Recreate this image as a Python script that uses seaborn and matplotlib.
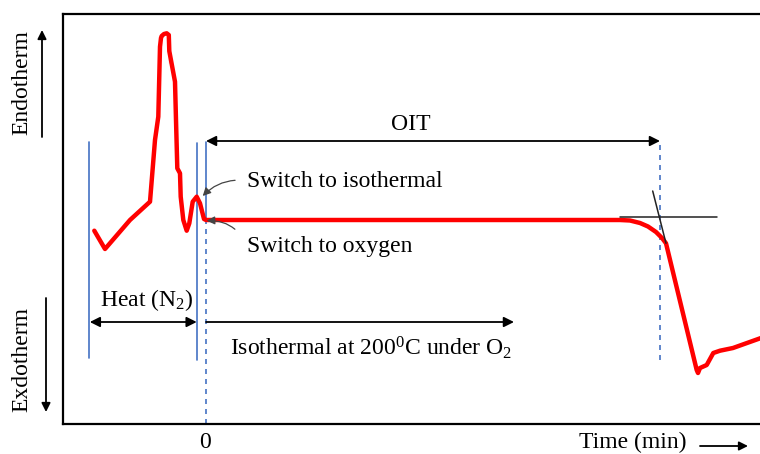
import matplotlib
matplotlib.use("Agg")
import matplotlib.pyplot as plt
import seaborn as sns
import pandas as pd

sns.set_style("white")
plt.rcParams["font.family"] = ["Liberation Serif", "DejaVu Serif"]
plt.rcParams["mathtext.fontset"] = "custom"
plt.rcParams["mathtext.rm"] = "Liberation Serif"
plt.rcParams["mathtext.it"] = "Liberation Serif:italic"
plt.rcParams["text.color"] = "black"
plt.rcParams["xtick.color"] = "black"

# DSC heat-flow trace (schematic): heating under N2, then isothermal under O2
time_min = [-11.07, -10.0, -7.5, -5.5, -5.0, -4.67, -4.5, -4.4, -4.33, -4.1, -3.83,
            -3.62, -3.57, -3.57, -3.0, -2.9, -2.77, -2.5, -2.43, -2.17, -1.83,
            -1.57, -1.23, -0.83, -0.5, -0.1, 0.1, 41.5, 42.5, 43.5, 44.3, 45.1,
            45.7, 46.1, 49.17, 49.3, 49.5, 50.17, 50.83, 51.5, 52.8, 55.6]
heat_flow = [19.33, 17.5, 20.4, 22.23, 28.4, 30.73, 37.73, 38.6, 38.8, 39.0, 39.07,
             38.9, 38.5, 36.07, 34.23, 30.4, 25.57, 25.07, 22.73, 20.4, 19.33,
             20.07, 22.23, 22.73, 22.07, 20.5, 20.4, 20.4, 20.35, 20.1, 19.75, 19.2,
             18.6, 18.07, 5.4, 5.1, 5.6, 5.9, 7.1, 7.33, 7.6, 8.6]

# Onset construction (baseline and tangent to the oxidation slope)
baseline_x = [41.5, 51.2]
baseline_y = [20.73, 20.73]
tangent_x = [44.77, 46.1]
tangent_y = [23.3, 18.07]

# Event markers
heat_start = -11.57
heat_end = -0.83
oxygen_on = 0.05
oit_end = 45.5
isothermal_arrow_end = 30.9

trace = pd.DataFrame({"time": time_min, "heat": heat_flow})

fig = plt.figure(figsize=(7.6, 4.54), dpi=100)
ax = fig.add_axes([63 / 760, 30 / 454, 700 / 760, 410 / 454])

blue = "#4472C4"
fs = 17

ax.plot([heat_start, heat_start], [6.57, 28.23], color=blue, lw=1.2)
ax.plot([heat_end, heat_end], [6.4, 28.13], color=blue, lw=1.2)
ax.plot([oxygen_on, oxygen_on], [20.4, 28.23], color=blue, lw=1.2)
ax.plot([oxygen_on, oxygen_on], [0, 20.4], color=blue, lw=1.2, ls=(0, (3, 3)))
ax.plot([oit_end, oit_end], [6.4, 28.23], color=blue, lw=1.2, ls=(0, (3, 3)))

sns.lineplot(data=trace, x="time", y="heat", sort=False, color="#FF0000",
             lw=3.2, ax=ax, zorder=3)

ax.plot(baseline_x, baseline_y, color="#222222", lw=1.1, zorder=4)
ax.plot(tangent_x, tangent_y, color="#222222", lw=1.1, zorder=4)

arrow_kw = dict(arrowstyle="<|-|>", color="black", lw=1.3, mutation_scale=15,
                shrinkA=0, shrinkB=0)
ax.annotate("", xy=(oit_end, 28.3), xytext=(oxygen_on + 0.05, 28.3), arrowprops=arrow_kw)
ax.annotate("", xy=(heat_end, 10.2), xytext=(heat_start + 0.05, 10.2), arrowprops=arrow_kw)
ax.annotate("", xy=(isothermal_arrow_end, 10.2), xytext=(oxygen_on + 0.05, 10.2),
            arrowprops=dict(arrowstyle="-|>", color="black", lw=1.3, mutation_scale=15,
                            shrinkA=0, shrinkB=0))

ax.text(20.6, 29.9, "OIT", ha="center", va="center", fontsize=fs)
ax.text(-5.85, 12.4, r"Heat (N$\mathregular{_2}$)", ha="center", va="center", fontsize=fs)
ax.text(16.6, 7.6, r"Isothermal at 200$\mathregular{^0}$C under O$\mathregular{_2}$",
        ha="center", va="center", fontsize=fs)

ax.annotate("Switch to isothermal", xy=(-0.23, 22.8), xytext=(4.17, 24.23),
            ha="left", va="center", fontsize=fs,
            arrowprops=dict(arrowstyle="-|>", color="#444444", lw=0.9, mutation_scale=12,
                            shrinkA=6, shrinkB=0, relpos=(0, 0.55),
                            connectionstyle="arc3,rad=0.25"))
ax.annotate("Switch to oxygen", xy=(0.17, 20.33), xytext=(4.2, 17.73),
            ha="left", va="center", fontsize=fs,
            arrowprops=dict(arrowstyle="-|>", color="#444444", lw=0.9, mutation_scale=12,
                            shrinkA=10, shrinkB=0, relpos=(0, 0.5),
                            connectionstyle="arc3,rad=0.35"))

ax.set_xlim(-14.2, 55.8)
ax.set_ylim(0, 41)
ax.set_xticks([0])
ax.set_xticklabels(["0"], fontsize=fs)
ax.set_yticks([])
ax.tick_params(axis="x", length=0, pad=6)
ax.set_xlabel("")
ax.set_ylabel("")
for side in ["left", "top", "bottom"]:
    ax.spines[side].set_linewidth(1.6)
    ax.spines[side].set_color("black")
ax.spines["right"].set_visible(False)

# Direction labels outside the plotting area
fig.text(22 / 760, 1 - 83 / 454, "Endotherm", rotation=90, ha="center", va="center", fontsize=fs)
fig.text(22 / 760, 1 - 360 / 454, "Exdotherm", rotation=90, ha="center", va="center", fontsize=fs)
fig_arrow = dict(arrowstyle="-|>", color="black", lw=1.3, mutation_scale=13, shrinkA=0, shrinkB=0)
fig.add_artist(matplotlib.patches.FancyArrowPatch((42 / 760, 317 / 454), (42 / 760, 424 / 454),
                                                  transform=fig.transFigure, **fig_arrow))
fig.add_artist(matplotlib.patches.FancyArrowPatch((46 / 760, 156 / 454), (46 / 760, 42 / 454),
                                                  transform=fig.transFigure, **fig_arrow))
fig.text(633 / 760, 1 / 454, "Time (min)", ha="center", va="bottom", fontsize=fs)
fig.add_artist(matplotlib.patches.FancyArrowPatch((700 / 760, 8 / 454), (748 / 760, 8 / 454),
                                                  transform=fig.transFigure, **fig_arrow))

fig.savefig("out.png", dpi=100)
